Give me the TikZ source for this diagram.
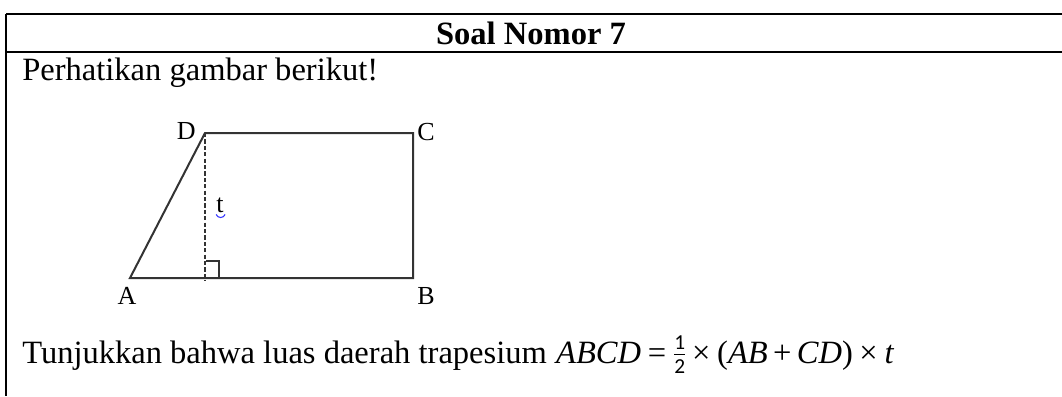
\documentclass[tikz,border=0pt]{standalone}
\usepackage{fontspec}
\setmainfont{Liberation Serif}
\setsansfont{Carlito}
\newcommand\halfsym{$\vcenter{\hbox{\ensuremath{\frac{\hbox{\fontsize{16}{16}\selectfont\sffamily 1}}{\hbox{\fontsize{16}{16}\selectfont\sffamily 2}}}}}$}
\begin{document}
\begin{tikzpicture}[x=0.75pt,y=-0.75pt,
  frame/.style={line width=1.6pt,black},
  edge/.style={line width=1.5pt,draw=black!80},
  height/.style={line width=1.5pt,draw=black!80,dash pattern=on 3.2pt off 1.6pt},
  vlabel/.style={inner sep=0pt,font=\fontsize{19.5}{22}\selectfont},
  bodytext/.style={inner sep=0pt,anchor=base west,font=\fontsize{24.4}{28}\selectfont}]
\useasboundingbox (0,0) rectangle (1062,396);
% table frame
\coordinate (TL) at (6,14);
\coordinate (TR) at (1062,14);
\coordinate (ML) at (6,52);
\coordinate (MR) at (1062,52);
\coordinate (BL) at (6,396);
\draw[frame] (TL) -- (TR);
\draw[frame] (ML) -- (MR);
\draw[frame] (TL) -- (BL);
% header
\node[inner sep=0pt,anchor=base,font=\fontsize{24.4}{28}\selectfont\bfseries] (title) at (531,44) {Soal Nomor 7};
\node[bodytext] (intro) at (22,80) {Perhatikan gambar berikut!};
% figure
\coordinate (A) at (130,278);
\coordinate (B) at (413,278);
\coordinate (C) at (413,133);
\coordinate (D) at (205,133);
\coordinate (F) at (205,281);
\draw[edge,line join=miter] (A) -- (B) -- (C) -- (D) -- cycle;
\draw[height] (D) -- (F);
\coordinate (R1) at (206,261);
\coordinate (R2) at (219,261);
\coordinate (R3) at (219,278);
\draw[edge] (R1) -- (R2) -- (R3);
\node[vlabel,anchor=base east] (lD) at (196,139) {D};
\node[vlabel,anchor=base west] (lC) at (417,140) {C};
\node[vlabel,anchor=base] (lA) at (127,304) {A};
\node[vlabel,anchor=base west] (lB) at (417,304) {B};
\node[vlabel,anchor=base] (lt) at (220,212) {t};
\draw[blue!80,line width=0.8pt] (lt.south west) ++(0,2) .. controls ++(2,4) and ++(-2,4) .. ++(9,0);
% task
\node[bodytext] (task) at (22,363) {Tunjukkan bahwa luas daerah trapesium\hspace{7pt}\textit{ABCD}\hspace{5pt}=\hspace{5pt}\halfsym\hspace{4pt}×\hspace{5pt}(\textit{AB}\hspace{4pt}+\hspace{4pt}\textit{CD})\hspace{5pt}×\hspace{5pt}\textit{t}};
\end{tikzpicture}
\end{document}
